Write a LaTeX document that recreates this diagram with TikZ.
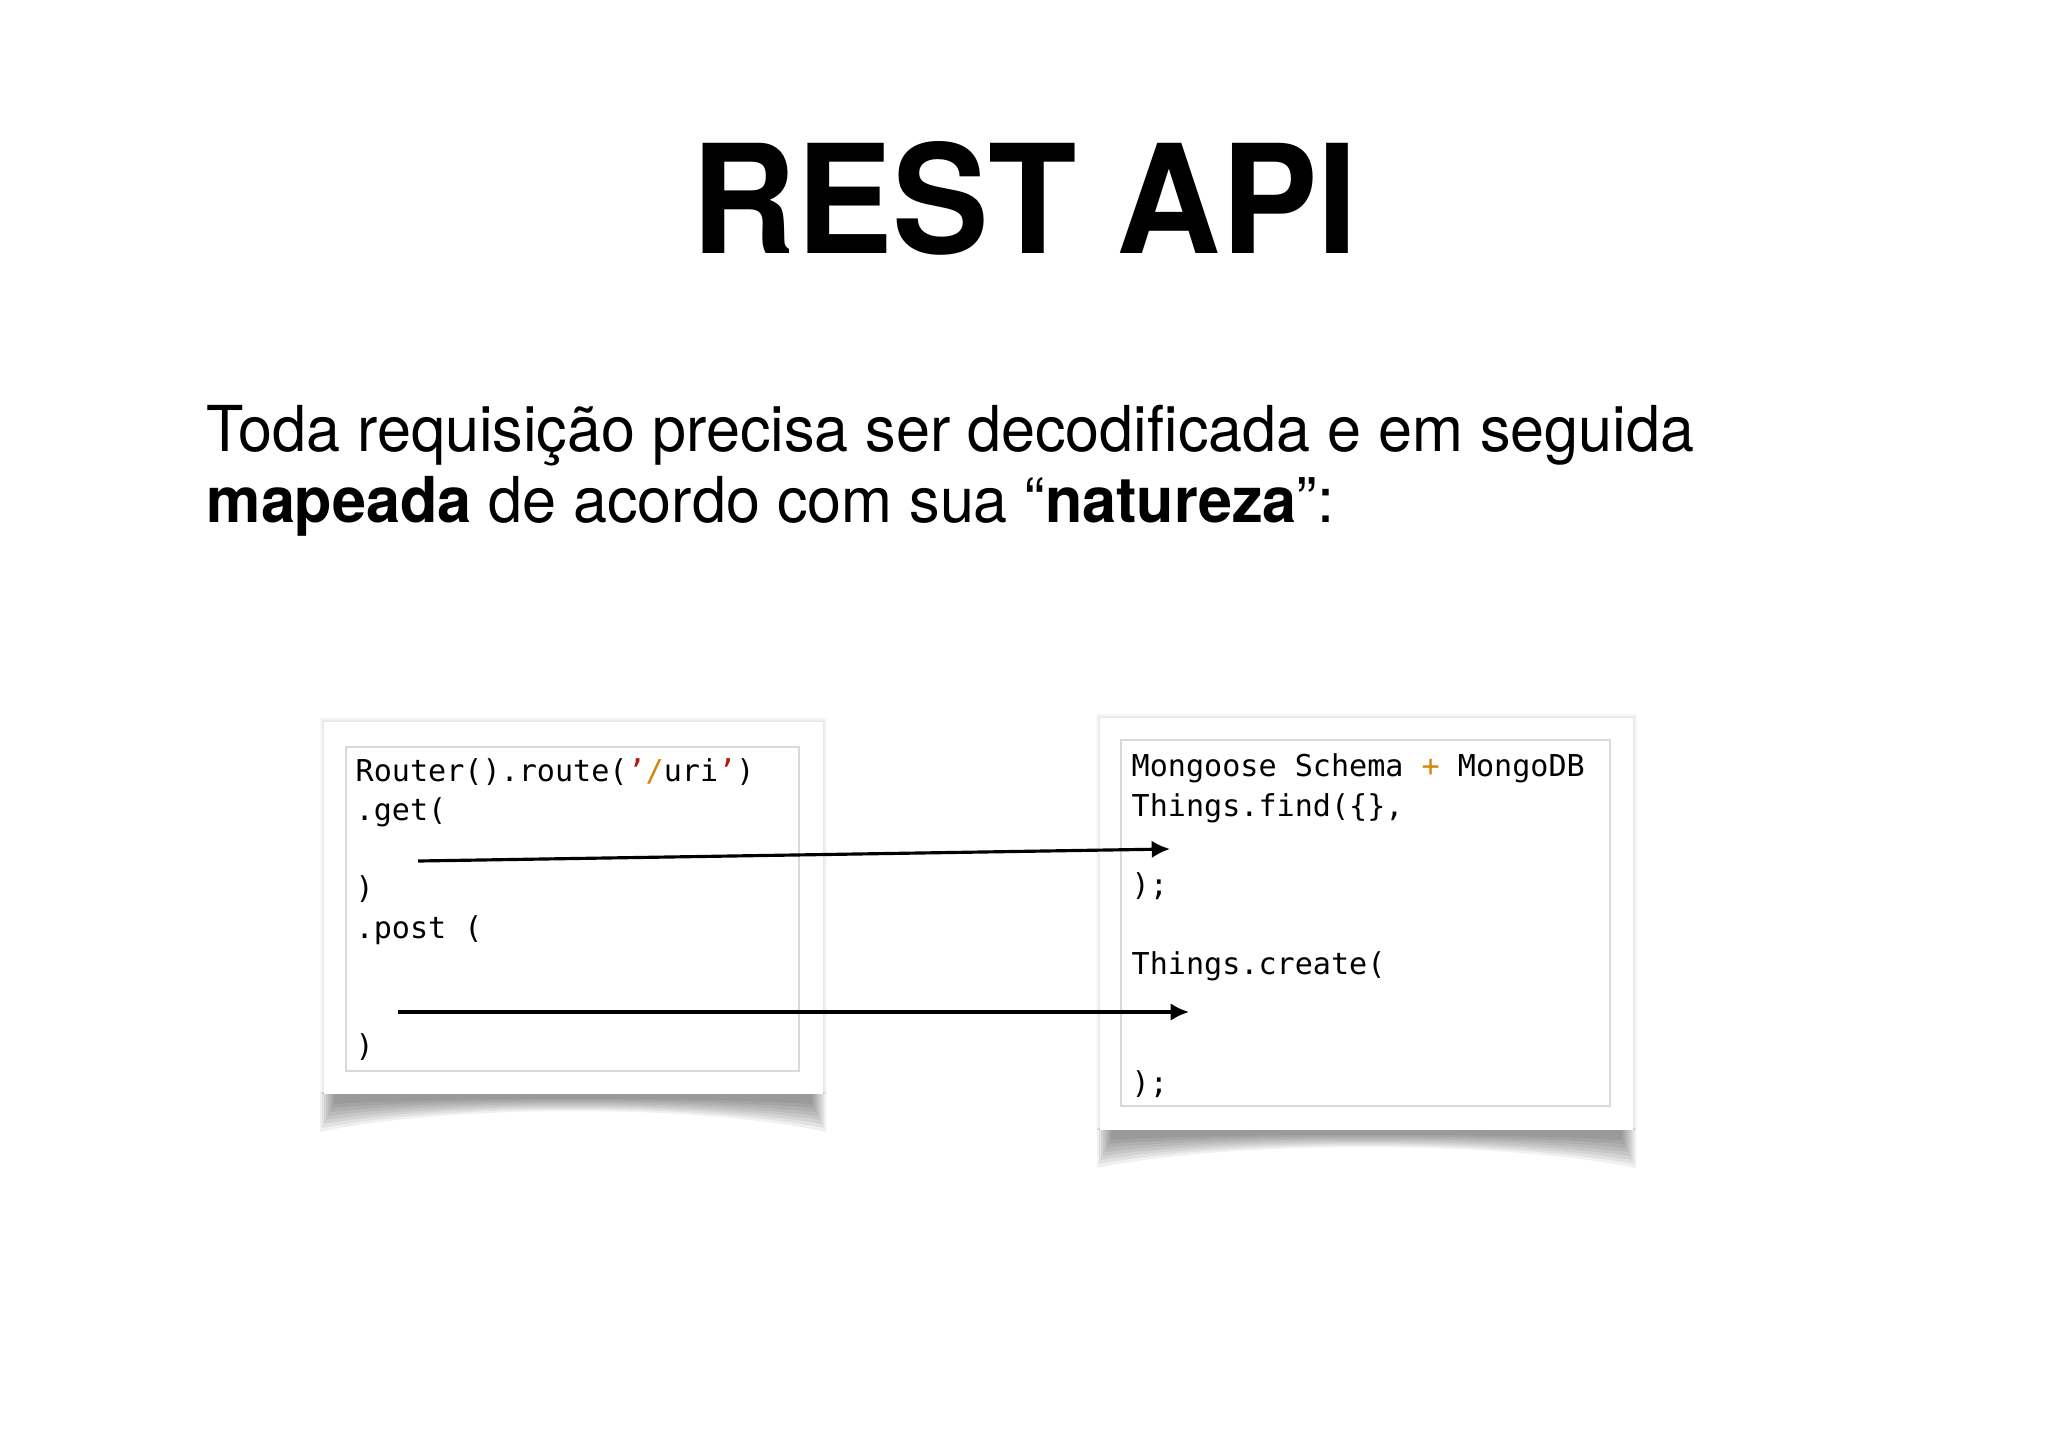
\documentclass[tikz,border=0pt]{standalone}
\usepackage{fontspec}
\setmainfont{TeX Gyre Heros}[FakeStretch=0.965]
\newfontfamily\titlefont{TeX Gyre Heros}[FakeStretch=0.957]
\newfontfamily\codefont{DejaVu Sans Mono}
\usetikzlibrary{arrows.meta}
\definecolor{strred}{HTML}{B3170F}
\definecolor{strorange}{HTML}{D6860B}
\definecolor{frameline}{HTML}{D9D9D9}

\begin{document}
\begin{tikzpicture}[x=0.01cm, y=-0.01cm,
    code/.style={anchor=base west, inner sep=0pt, font=\codefont\fontsize{8.56pt}{10pt}\selectfont},
    body/.style={anchor=base west, inner sep=0pt, font=\fontsize{18pt}{20pt}\selectfont},
    call/.style={line width=0.9pt, -{Latex[length=5.2pt,width=5pt]}}]
        \fill [white] (0,0) rectangle (2048,1448);
        % titel
        \node (title) [anchor=base, inner sep=0pt, font=\titlefont\bfseries\fontsize{43pt}{50pt}\selectfont] at (1025,253) {REST API};
        \node (line1) [body] at (206,451) {Toda requisição precisa ser decodificada e em seguida};
        \node (line2) [body] at (206,522) {\textbf{mapeada} de acordo com sua “\textbf{natureza}”:};
        % schaduwen
        \foreach \i in {0,...,7} {
            \fill [black, opacity=0.06] (320+2*\i,1092) -- (826-2*\i,1092) -- (826-2*\i,1132-4*\i)
                .. controls (700,1104-\i) and (450,1104-\i) .. (320+2*\i,1132-4*\i) -- cycle;
            \fill [black, opacity=0.06] (1097+2*\i,1128) -- (1636-2*\i,1128) -- (1636-2*\i,1168-4*\i)
                .. controls (1500,1140-\i) and (1230,1140-\i) .. (1097+2*\i,1168-4*\i) -- cycle;
        }
        \foreach \i in {1,...,4} {
            \fill [black, opacity=0.025] (324-\i,722-\i) rectangle (823+\i,1094);
            \fill [black, opacity=0.025] (1100-\i,718-\i) rectangle (1633+\i,1130);
        }
        % kaders
        \fill [white] (324,722) rectangle (823,1094);
        \draw [frameline, line width=0.4pt] (346,747) rectangle (799,1071);
        \fill [white] (1100,718) rectangle (1633,1130);
        \draw [frameline, line width=0.4pt] (1121,740) rectangle (1610,1106);
        % router code
        \node (route) [code] at (355,781) {Router().route(\textcolor{strred}{’}\textcolor{strorange}{/}uri\textcolor{strred}{’})};
        \node (get) [code] at (355,820) {.get(};
        \node (getend) [code] at (355,898) {)};
        \node (post) [code] at (355,938) {.post (};
        \node (postend) [code] at (355,1056) {)};
        % mongoose code
        \node (schema) [code] at (1131,776) {Mongoose Schema \textcolor{strorange}{+} MongoDB};
        \node (find) [code] at (1131,816) {Things.find(\{\},};
        \node (findend) [code] at (1131,895) {);};
        \node (create) [code] at (1131,974) {Things.create(};
        \node (createend) [code] at (1131,1093) {);};
        % pijlen
        \coordinate (getsrc) at (418,861);
        \coordinate (finddst) at (1170,849);
        \coordinate (postsrc) at (398,1012);
        \coordinate (createdst) at (1189,1012);
        \draw [call] (getsrc) -- (finddst);
        \draw [call] (postsrc) -- (createdst);
    \end{tikzpicture}
\end{document}
